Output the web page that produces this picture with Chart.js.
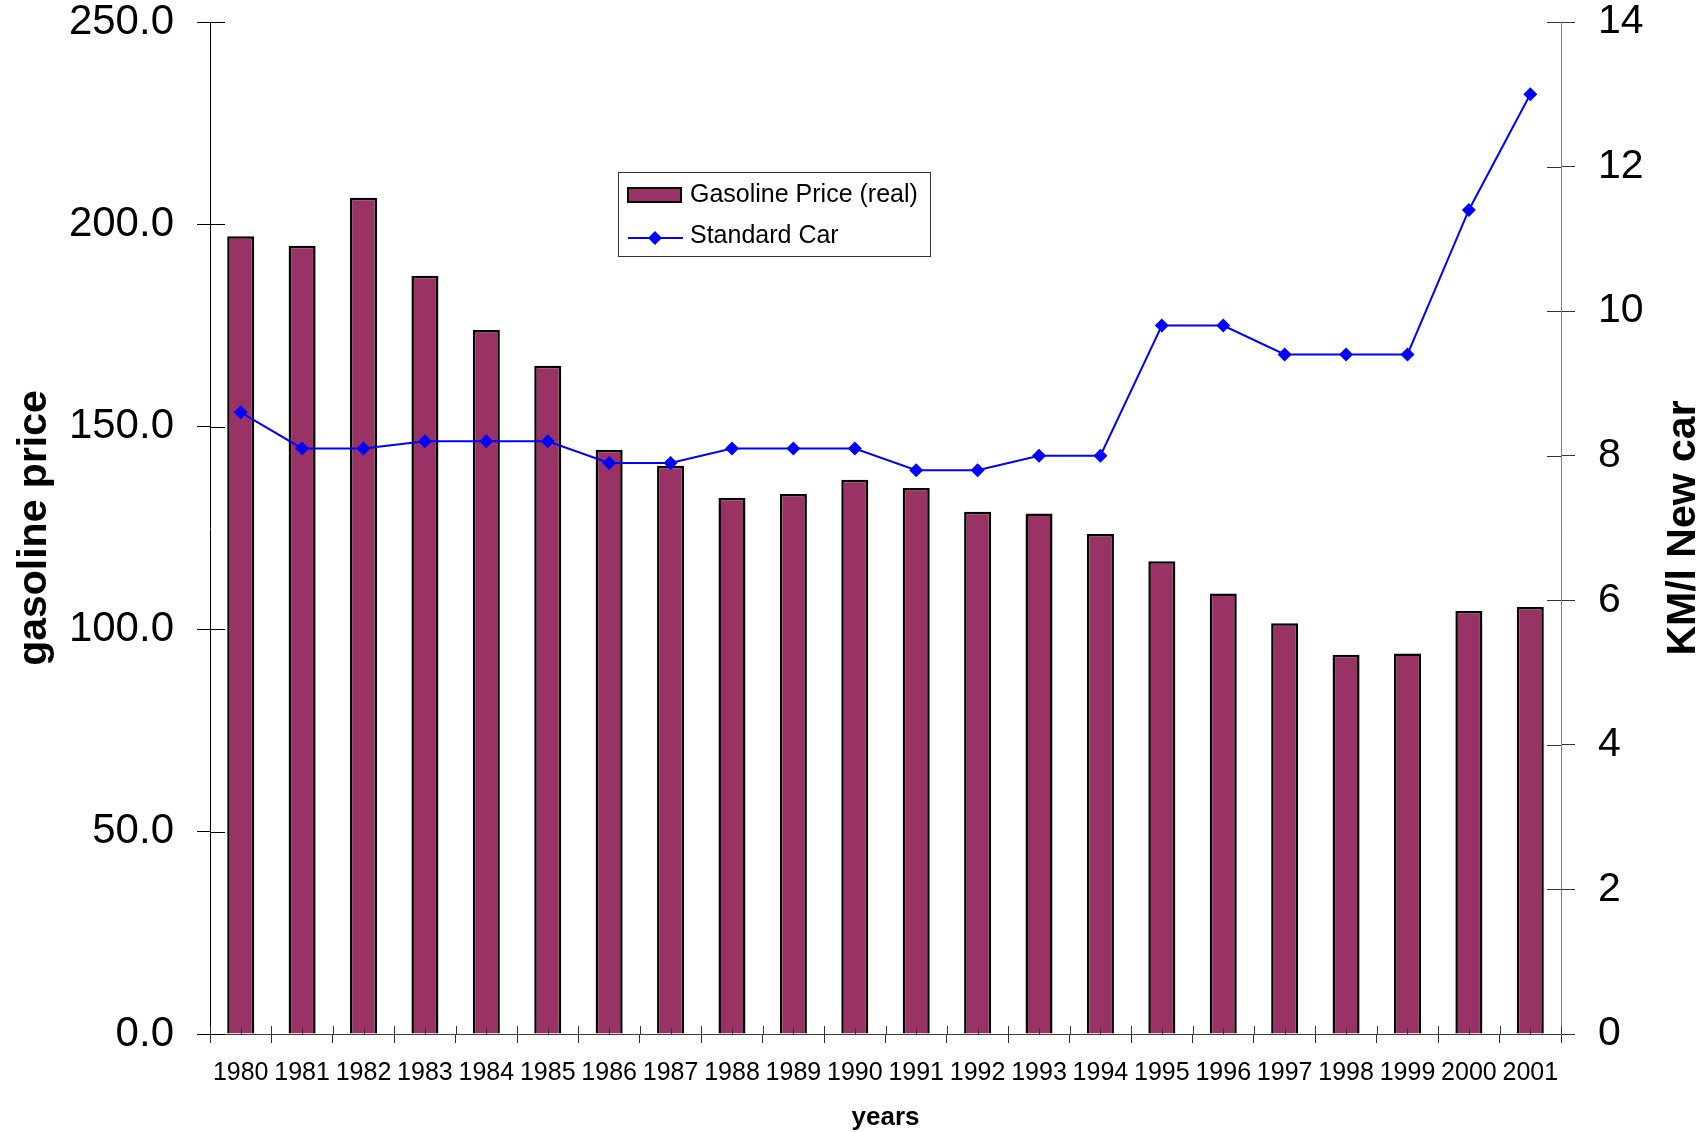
<!DOCTYPE html>
<html>
<head>
<meta charset="utf-8">
<script src="https://cdn.jsdelivr.net/npm/chart.js@4/dist/chart.umd.min.js"></script>
<style>
  html, body { margin: 0; padding: 0; background: #ffffff; overflow: hidden; }
  #wrap { width: 1708px; height: 1132px; }
</style>
</head>
<body>
<div id="wrap"><canvas id="c" width="1708" height="1132"></canvas></div>
<script>
const years = ['1980','1981','1982','1983','1984','1985','1986','1987','1988','1989','1990',
               '1991','1992','1993','1994','1995','1996','1997','1998','1999','2000','2001'];
const gasolinePrice = [197.1, 194.7, 206.6, 187.3, 173.9, 165.1, 144.3, 140.4, 132.5, 133.4, 136.9,
                       134.9, 129.0, 128.6, 123.5, 116.8, 108.8, 101.5, 93.7, 94.0, 104.5, 105.5];
const standardCar = [8.6, 8.1, 8.1, 8.2, 8.2, 8.2, 7.9, 7.9, 8.1, 8.1, 8.1,
                     7.8, 7.8, 8.0, 8.0, 9.8, 9.8, 9.4, 9.4, 9.4, 11.4, 13.0];
const seriesNames = ['Gasoline Price (real)', 'Standard Car'];
const leftTitle = 'gasoline price';
const rightTitle = 'KM/l New car';
const bottomTitle = 'years';

const FONT = "'Liberation Sans', Arial, Helvetica, sans-serif";

const decorPlugin = {
  id: 'decor',
  afterDraw(chart) {
    const ctx = chart.ctx;
    const x = chart.scales.x, yL = chart.scales.y, yR = chart.scales.y1;
    const area = chart.chartArea;
    ctx.save();
    // inner halves of y tick marks
    ctx.lineWidth = 1;
    ctx.strokeStyle = '#000';
    yL.ticks.forEach((t, i) => {
      const py = Math.round(yL.getPixelForTick(i)) + 0.5;
      ctx.beginPath(); ctx.moveTo(area.left, py); ctx.lineTo(area.left + 15, py); ctx.stroke();
    });
    ctx.strokeStyle = '#333';
    yR.ticks.forEach((t, i) => {
      const py = Math.round(yR.getPixelForTick(i)) + 0.5;
      ctx.beginPath(); ctx.moveTo(area.right - 14, py); ctx.lineTo(area.right, py); ctx.stroke();
    });
    // upper halves of x tick marks (between categories)
    ctx.strokeStyle = '#333';
    for (let i = 0; i <= years.length; i++) {
      const px = Math.round(x.getPixelForValue(i - 0.5)) + 0.5;
      ctx.beginPath(); ctx.moveTo(px, area.bottom - 8); ctx.lineTo(px, area.bottom); ctx.stroke();
    }
    // small center ticks (secondary category axis)
    for (let i = 0; i < years.length; i++) {
      const px = Math.round(x.getPixelForValue(i)) + 0.5;
      ctx.beginPath(); ctx.moveTo(px, area.bottom - 6); ctx.lineTo(px, area.bottom); ctx.stroke();
    }
    // right axis title (reads bottom-to-top)
    ctx.fillStyle = '#000';
    ctx.font = 'bold 41px ' + FONT;
    ctx.textAlign = 'center';
    ctx.textBaseline = 'middle';
    ctx.translate(1684, (area.top + area.bottom) / 2);
    ctx.rotate(-Math.PI / 2);
    ctx.fillText(rightTitle, 0, 0);
    ctx.restore();

    // legend
    ctx.save();
    const ds0 = chart.data.datasets[0], ds1 = chart.data.datasets[1];
    const lx = 618, ly = 172, lw = 312, lh = 84;
    ctx.fillStyle = '#fff';
    ctx.fillRect(lx, ly, lw, lh);
    ctx.strokeStyle = '#333';
    ctx.lineWidth = 1;
    ctx.strokeRect(lx + 0.5, ly + 0.5, lw, lh);
    // bar swatch
    ctx.fillStyle = ds0.backgroundColor;
    ctx.fillRect(628, 188, 53, 14);
    ctx.strokeStyle = '#000';
    ctx.lineWidth = 2;
    ctx.strokeRect(628, 188, 53, 14);
    // line swatch
    ctx.strokeStyle = ds1.borderColor;
    ctx.lineWidth = 2;
    ctx.beginPath(); ctx.moveTo(628, 238); ctx.lineTo(683, 238); ctx.stroke();
    ctx.fillStyle = ds1.borderColor;
    ctx.beginPath();
    ctx.moveTo(655, 231); ctx.lineTo(662, 238); ctx.lineTo(655, 245); ctx.lineTo(648, 238); ctx.closePath();
    ctx.fill();
    ctx.fillStyle = '#000';
    ctx.font = '25px ' + FONT;
    ctx.textAlign = 'left';
    ctx.textBaseline = 'alphabetic';
    ctx.fillText(ds0.label, 690, 202);
    ctx.fillText(ds1.label, 690, 243);
    ctx.restore();
  }
};

const ctx = document.getElementById('c').getContext('2d');
new Chart(ctx, {
  data: {
    labels: years,
    datasets: [
      {
        type: 'bar',
        label: seriesNames[0],
        data: gasolinePrice,
        yAxisID: 'y',
        backgroundColor: '#993366',
        borderColor: '#000000',
        borderWidth: 2.5,
        categoryPercentage: 1.0,
        barPercentage: 0.44,
        order: 1
      },
      {
        type: 'line',
        label: seriesNames[1],
        data: standardCar,
        yAxisID: 'y1',
        borderColor: '#0000FF',
        backgroundColor: '#0000FF',
        borderWidth: 2,
        tension: 0,
        pointStyle: 'rectRot',
        pointRadius: 7,
        pointHoverRadius: 7,
        pointBackgroundColor: '#0000FF',
        pointBorderColor: '#0000FF',
        pointBorderWidth: 0,
        order: 0
      }
    ]
  },
  options: {
    responsive: false,
    animation: false,
    devicePixelRatio: 1,
    layout: { padding: { top: 22, left: 0, right: 0, bottom: 0 } },
    plugins: {
      legend: { display: false },
      tooltip: { enabled: false },
      title: { display: false }
    },
    scales: {
      x: {
        type: 'category',
        offset: true,
        grid: {
          offset: true,
          drawOnChartArea: false,
          drawTicks: true,
          tickLength: 9,
          color: '#333',
          lineWidth: 1
        },
        border: { display: true, color: '#404040', width: 1 },
        ticks: {
          color: '#000',
          font: { family: FONT, size: 25, lineHeight: 1 },
          padding: 18,
          maxRotation: 0,
          minRotation: 0,
          autoSkip: false
        },
        title: {
          display: true,
          text: bottomTitle,
          color: '#000',
          font: { family: FONT, size: 26, weight: 'bold', lineHeight: 1 },
          padding: { top: 0, bottom: 1 }
        },
        afterFit(scale) { scale.height = 98; scale.paddingLeft = 0; scale.paddingRight = 0; }
      },
      y: {
        type: 'linear',
        position: 'left',
        min: 0,
        max: 250,
        ticks: {
          stepSize: 50,
          color: '#000',
          font: { family: FONT, size: 42, lineHeight: 1 },
          padding: 23,
          callback: (v) => Number(v).toFixed(1)
        },
        grid: {
          drawOnChartArea: false,
          drawTicks: true,
          tickLength: 13,
          color: '#000',
          lineWidth: 1
        },
        border: { display: true, color: '#000', width: 1 },
        title: {
          display: true,
          text: leftTitle,
          color: '#000',
          font: { family: FONT, size: 41, weight: 'bold', lineHeight: 1 },
          padding: { top: 14, bottom: 0 }
        },
        afterFit(scale) { scale.width = 210; scale.paddingTop = 0; scale.paddingBottom = 0; }
      },
      y1: {
        type: 'linear',
        position: 'right',
        min: 0,
        max: 14,
        ticks: {
          stepSize: 2,
          color: '#000',
          font: { family: FONT, size: 41, lineHeight: 1 },
          padding: 23
        },
        grid: {
          drawOnChartArea: false,
          drawTicks: true,
          tickLength: 14,
          color: '#333',
          lineWidth: 1
        },
        border: { display: true, color: '#808080', width: 1 },
        afterFit(scale) { scale.width = 147; scale.paddingTop = 0; scale.paddingBottom = 0; }
      }
    }
  },
  plugins: [decorPlugin]
});
</script>
</body>
</html>
